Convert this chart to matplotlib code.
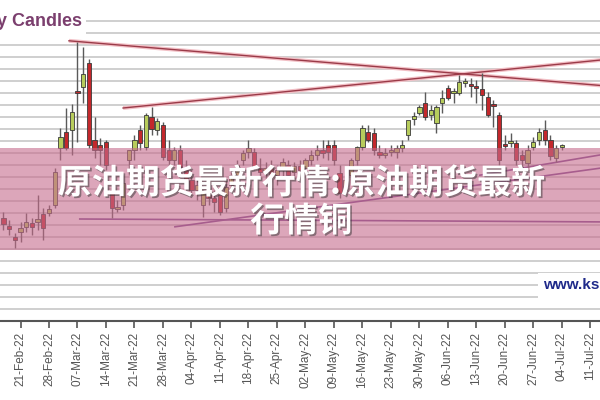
import matplotlib
matplotlib.use("Agg")
import matplotlib.pyplot as plt
import matplotlib.patheffects as pe
from matplotlib.patches import Rectangle
import numpy as np

# trading-day index (0 = 21-Feb-22), one candle per day
first_day = -3
opens = [87.2, 85.8, 84.0, 84.8, 85.7, 86.3, 86.5, 87.8, 88.0, 89.3,
         98.8, 101.5, 101.8, 108.2, 109.0, 113.0, 100.2, 99.3, 99.8, 91.8,
         88.7, 89.3, 96.8, 98.5, 101.8, 99.0, 104.0, 101.8, 102.7, 98.5,
         96.8, 98.5, 95.2, 93.5, 91.8, 89.3, 91.0, 90.5, 91.0, 88.8,
         92.7, 94.3, 96.8, 98.2, 98.2, 95.5, 94.8, 95.5, 94.3, 95.2,
         96.0, 94.8, 95.8, 95.5, 96.8, 97.7, 98.5, 99.3, 99.3, 94.7,
         91.8, 94.3, 96.8, 99.0, 101.5, 101.3, 98.2, 97.7, 98.2, 98.2,
         98.8, 101.0, 103.7, 104.7, 106.3, 104.3, 103.0, 106.3, 108.8, 108.0,
         108.0, 109.7, 109.3, 109.2, 108.7, 107.3, 106.2, 104.3, 99.3, 99.7,
         99.7, 97.7, 96.3, 99.0, 100.2, 101.8, 100.2, 97.2, 99.0]
highs = [88.2, 86.8, 84.7, 86.5, 88.0, 87.2, 91.0, 88.8, 89.3, 95.5,
         102.2, 105.5, 106.2, 116.5, 115.7, 113.7, 104.0, 100.5, 100.2, 93.0,
         90.2, 94.3, 98.5, 101.0, 102.7, 104.7, 105.7, 103.8, 103.2, 100.2,
         99.0, 99.3, 96.8, 95.2, 93.5, 91.8, 92.7, 91.8, 92.2, 93.5,
         95.2, 96.8, 98.5, 100.2, 98.8, 97.2, 96.5, 96.8, 96.0, 97.2,
         96.8, 96.5, 96.8, 97.2, 98.5, 99.3, 100.2, 100.2, 100.2, 96.0,
         94.3, 97.2, 99.2, 102.7, 102.7, 102.2, 99.3, 98.8, 99.3, 99.3,
         100.2, 101.8, 104.8, 106.0, 108.2, 106.0, 106.0, 108.5, 109.3, 108.8,
         111.0, 110.5, 110.5, 110.2, 111.3, 108.2, 106.8, 104.8, 101.0, 101.3,
         100.2, 98.5, 99.3, 100.7, 102.2, 103.5, 101.0, 99.3, 99.5]
lows = [85.2, 84.3, 82.2, 83.2, 84.8, 84.3, 85.2, 83.5, 87.5, 88.8,
        96.8, 98.5, 97.7, 99.8, 106.3, 98.8, 97.2, 96.0, 95.2, 87.2,
        88.2, 88.5, 94.3, 96.8, 98.5, 98.5, 101.0, 101.0, 96.8, 95.2,
        96.0, 95.2, 92.7, 91.0, 90.2, 87.3, 89.3, 88.2, 87.7, 88.2,
        91.8, 93.5, 96.0, 97.2, 95.2, 93.8, 93.5, 93.2, 92.7, 93.8,
        93.5, 93.8, 94.3, 94.8, 96.0, 96.8, 97.2, 96.8, 96.0, 90.5,
        91.0, 93.5, 96.0, 98.5, 99.8, 97.7, 97.2, 97.2, 97.5, 97.2,
        98.2, 100.2, 102.7, 104.3, 103.5, 103.5, 101.3, 104.7, 106.8, 106.3,
        107.7, 109.0, 107.3, 106.3, 105.2, 104.0, 102.3, 96.0, 98.5, 99.0,
        96.0, 95.2, 95.5, 98.5, 99.3, 99.3, 96.8, 96.5, 98.5]
closes = [86.2, 85.3, 83.5, 85.5, 86.5, 85.7, 87.0, 85.5, 88.7, 94.8,
          100.7, 98.8, 104.8, 108.0, 111.2, 99.3, 98.5, 98.5, 96.0, 88.8,
          89.0, 93.0, 98.5, 100.2, 99.7, 104.3, 102.0, 103.3, 97.3, 96.8,
          98.5, 95.7, 93.5, 91.8, 92.7, 91.3, 90.5, 89.8, 88.2, 92.3,
          94.3, 96.0, 98.0, 98.8, 95.5, 94.8, 95.5, 94.3, 95.2, 96.5,
          94.3, 95.8, 95.2, 96.8, 97.7, 98.5, 98.0, 98.2, 96.8, 91.3,
          93.5, 96.8, 99.0, 102.2, 100.2, 98.5, 97.7, 98.0, 98.3, 98.8,
          99.3, 103.5, 104.2, 105.7, 104.0, 105.2, 105.7, 107.2, 107.2, 108.2,
          109.8, 110.0, 109.2, 108.8, 107.7, 104.3, 105.8, 96.8, 99.2, 100.0,
          96.8, 96.8, 98.5, 99.8, 101.5, 100.2, 97.5, 98.8, 99.1]

week_labels = ["21-Feb-22", "28-Feb-22", "07-Mar-22", "14-Mar-22", "21-Mar-22",
               "28-Mar-22", "04-Apr-22", "11-Apr-22", "18-Apr-22", "25-Apr-22",
               "02-May-22", "09-May-22", "16-May-22", "23-May-22", "30-May-22",
               "06-Jun-22", "13-Jun-22", "20-Jun-22", "27-Jun-22", "04-Jul-22",
               "11-Jul-22"]

# trend lines: (day index, price) end points
red_falling = ([8.5, 105.0], [116.7, 109.0])
red_rising = ([18.0, 105.0], [105.5, 113.8])
purple_flat = ([10.4, 105.0], [87.0, 86.5])
purple_rising = ([27.1, 105.0], [85.7, 95.9])
purple_rising2 = ([80.6, 105.0], [94.3, 98.2])

title_cn_1 = "原油期货最新行情:原油期货最新"
title_cn_2 = "行情铜"

up_col = "#b7cc5c"
down_col = "#c3282c"

fig = plt.figure(figsize=(6, 4), dpi=100)
fig.patch.set_facecolor("white")
ax = fig.add_axes([0, 79 / 400, 1, 307 / 400])
ax.set_xlim(-3.6, 101.7)
ax.set_ylim(70, 70 + 307 / 6)

# horizontal grid
ax.set_yticks(np.arange(72, 121, 2))
ax.yaxis.grid(True, color="#cfcfcf", linewidth=1.4, zorder=0)
ax.tick_params(axis="y", length=0, labelleft=False)
ax.set_axisbelow(True)
for s in ["top", "left", "right"]:
    ax.spines[s].set_visible(False)
ax.spines["bottom"].set_color("#555555")
ax.spines["bottom"].set_linewidth(1.5)

ax.set_xticks(np.arange(len(week_labels)) * 5)
ax.set_xticklabels(week_labels, rotation=90, fontsize=8.5,
                   color="#555555", family="Liberation Sans")
ax.tick_params(axis="x", length=5, width=1.2, color="#555555", pad=3)

# trend lines
for xs, ys in [red_falling, red_rising]:
    ax.plot(xs, ys, color="#f2c0c6", lw=2.8, zorder=1, solid_capstyle="butt")
    ax.plot(xs, ys, color="#9b3a48", lw=1.0, zorder=1.1)
for xs, ys in [purple_flat, purple_rising, purple_rising2]:
    ax.plot(xs, ys, color="#7a4a90", lw=1.2, zorder=1.1)

# candles
days = np.arange(len(opens)) + first_day
for d, o, h, l, c in zip(days, opens, highs, lows, closes):
    ax.vlines(d, l, h, color="#5a5a5a", lw=1.0, zorder=2)
    col = up_col if c >= o else down_col
    height = max(abs(c - o), 0.25)
    ax.bar(d, height, bottom=min(o, c), width=0.75, color=col,
           edgecolor="#3a3a3a", linewidth=0.6, zorder=3)

# chart title and site tag (cut off by the picture edges, as in the source)
fig.text(82 / 600, 1 - 22 / 400, "Daily Candles", ha="right", va="center",
         fontsize=13, fontweight="bold", color="#7b3f6e", family="Liberation Sans",
         bbox=dict(facecolor="white", edgecolor="none", pad=3))
fig.text(543 / 600, 1 - 285 / 400, "www.kshitij.com", ha="left", va="center",
         fontsize=11, fontweight="bold", color="#1f2a8a", family="Liberation Sans",
         bbox=dict(facecolor="white", edgecolor="none", pad=4))

# pink banner across the chart
fig.patches.append(Rectangle((0, 150 / 400), 1, 102 / 400, transform=fig.transFigure,
                             facecolor="#c66b8c", alpha=0.6, edgecolor="none", zorder=5))

shadow = [pe.withSimplePatchShadow(offset=(1.2, -1.2), shadow_rgbFace="#333333", alpha=0.5)]
fig.text(0.502, 1 - 183 / 400, title_cn_1, ha="center", va="center", fontsize=24.5,
         fontweight="bold", color="white", family=["Noto Sans CJK SC", "DejaVu Sans"],
         path_effects=shadow, zorder=6)
fig.text(0.502, 1 - 221 / 400, title_cn_2, ha="center", va="center", fontsize=24.5,
         fontweight="bold", color="white", family=["Noto Sans CJK SC", "DejaVu Sans"],
         path_effects=shadow, zorder=6)

fig.savefig("out.png", dpi=100)
